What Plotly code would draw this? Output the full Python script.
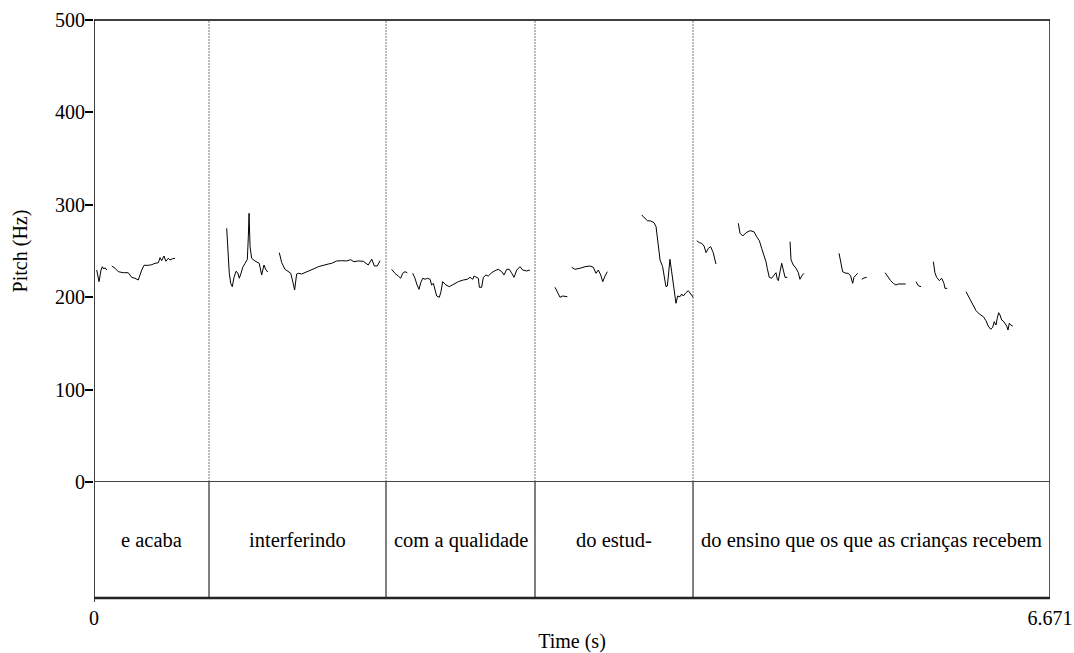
import plotly.graph_objects as go

# ---- data ----
T_MAX = 6.671
boundaries = [0.8025, 2.0376, 3.0773, 4.180]
labels = ["e acaba", "interferindo", "com a qualidade", "do estud-",
          "do ensino que os que as crianças recebem"]

seg_t = [
    [0.019, 0.035, 0.049, 0.058, 0.068, 0.077, 0.089],
    [0.124, 0.147, 0.170, 0.204, 0.239, 0.263, 0.286, 0.309, 0.333, 0.349, 0.379, 0.403, 0.426,
     0.449, 0.461, 0.472, 0.488, 0.502, 0.518, 0.530, 0.549, 0.565],
    [0.926, 0.944, 0.954, 0.965, 0.977, 0.991, 1.003, 1.014, 1.026, 1.038, 1.054, 1.070, 1.077,
     1.082, 1.089, 1.100, 1.123, 1.153, 1.170, 1.186, 1.198, 1.212],
    [1.293, 1.310, 1.333, 1.356, 1.373, 1.387, 1.400, 1.414, 1.428, 1.449, 1.472, 1.507, 1.542,
     1.565, 1.600, 1.635, 1.659, 1.694, 1.728, 1.763, 1.791, 1.814, 1.844, 1.879, 1.914, 1.938,
     1.956, 1.977, 1.996],
    [2.077, 2.100, 2.123, 2.140, 2.154, 2.170, 2.186],
    [2.224, 2.240, 2.252, 2.268, 2.280, 2.294, 2.310, 2.326, 2.345, 2.356, 2.368, 2.380, 2.391,
     2.410, 2.421, 2.433, 2.456, 2.479, 2.507, 2.542, 2.577, 2.605, 2.624, 2.643, 2.652, 2.666,
     2.682, 2.689, 2.705, 2.717, 2.735, 2.751, 2.775, 2.798, 2.821, 2.845, 2.861, 2.880, 2.898,
     2.915, 2.931, 2.950, 2.973, 2.991, 3.019, 3.042],
    [3.217, 3.233, 3.252, 3.271, 3.303],
    [3.333, 3.356, 3.391, 3.426, 3.461, 3.484, 3.503, 3.519, 3.536, 3.550, 3.566, 3.582],
    [3.822, 3.845, 3.861, 3.885, 3.908, 3.922, 3.933, 3.950, 3.968, 3.977, 3.991, 4.001, 4.019,
     4.031, 4.042, 4.054, 4.061, 4.073, 4.089, 4.101, 4.112, 4.131, 4.147, 4.164, 4.182],
    [4.206, 4.224, 4.241, 4.257, 4.271, 4.287, 4.303, 4.321, 4.340],
    [4.496, 4.508, 4.527, 4.550, 4.578, 4.605, 4.624, 4.643, 4.659, 4.675, 4.689, 4.698, 4.712,
     4.729, 4.745, 4.759, 4.768, 4.775, 4.787, 4.799, 4.810, 4.822, 4.838],
    [4.857, 4.864, 4.880, 4.899, 4.915, 4.926, 4.938, 4.954],
    [5.199, 5.210, 5.224, 5.247, 5.263, 5.280, 5.294, 5.303, 5.317, 5.329],
    [5.357, 5.373, 5.392],
    [5.520, 5.531, 5.543, 5.559, 5.578, 5.596, 5.612, 5.629, 5.647, 5.664],
    [5.736, 5.752, 5.771],
    [5.857, 5.868, 5.880, 5.899, 5.915, 5.931, 5.938, 5.954],
    [6.085, 6.101, 6.118, 6.136, 6.155, 6.178, 6.206, 6.224, 6.240, 6.257, 6.271, 6.282, 6.294,
     6.303, 6.313, 6.322, 6.334, 6.345, 6.357, 6.369, 6.378, 6.387, 6.397, 6.411],
]
seg_f = [
    [229.4, 216.8, 229.4, 233.0, 230.5, 231.9, 229.4],
    [233.8, 231.3, 227.6, 226.5, 226.5, 221.5, 220.5, 218.6, 229.4, 234.5, 234.5, 235.2, 236.7,
     237.3, 242.8, 239.5, 244.6, 238.9, 242.1, 240.3, 241.7, 242.1],
    [274.6, 225.9, 215.0, 211.4, 221.5, 228.0, 226.5, 220.5, 225.9, 232.4, 236.7, 241.0, 265.5,
     290.8, 254.7, 242.1, 239.2, 236.7, 224.0, 234.8, 230.2, 227.3],
    [248.2, 237.3, 230.2, 227.6, 225.9, 216.8, 207.8, 225.1, 225.9, 225.1, 226.5, 228.4, 231.3,
     233.0, 234.8, 235.9, 236.7, 239.2, 239.5, 239.2, 240.6, 238.4, 239.2, 238.9, 234.8, 241.3,
     233.8, 233.8, 239.5],
    [230.2, 225.9, 222.9, 220.5, 225.9, 227.6, 226.5],
    [225.9, 220.5, 214.3, 208.5, 215.7, 220.5, 219.4, 220.5, 219.4, 213.2, 215.0, 207.8, 201.3,
     199.9, 206.0, 216.8, 213.2, 211.4, 214.0, 216.8, 218.6, 219.4, 221.5, 219.4, 222.9, 221.5,
     220.5, 210.7, 210.7, 221.5, 224.0, 222.9, 226.5, 228.7, 230.2, 227.6, 224.0, 230.2, 230.2,
     225.9, 221.5, 229.4, 233.0, 229.4, 228.4, 229.4],
    [210.7, 206.0, 199.9, 201.3, 200.5],
    [232.4, 230.2, 231.3, 233.0, 233.8, 232.4, 225.9, 229.4, 224.0, 216.8, 222.9, 227.6],
    [289.0, 285.4, 282.8, 282.5, 280.6, 276.3, 261.9, 240.3, 233.0, 222.2, 211.4, 212.1, 241.0,
     227.6, 215.0, 204.2, 193.4, 201.3, 200.5, 203.5, 201.3, 204.9, 207.0, 203.5, 199.9],
    [261.1, 259.0, 258.3, 255.4, 248.2, 252.9, 254.7, 248.2, 235.9],
    [280.0, 269.2, 266.2, 269.8, 272.0, 270.9, 265.5, 261.1, 252.9, 245.7, 238.4, 231.3, 221.5,
     220.5, 224.0, 226.5, 219.4, 217.9, 227.6, 236.7, 229.4, 221.5, 221.5],
    [260.1, 240.3, 234.8, 231.3, 226.5, 219.4, 222.9, 225.9],
    [247.5, 238.4, 227.6, 225.9, 225.9, 222.9, 215.0, 221.5, 224.0, 225.9],
    [219.4, 220.8, 221.5],
    [226.5, 224.0, 221.5, 217.9, 215.0, 213.2, 214.3, 214.3, 215.0, 214.3],
    [216.8, 212.4, 211.4],
    [238.4, 226.5, 221.5, 217.9, 220.5, 215.0, 209.6, 209.6],
    [206.0, 201.3, 196.2, 190.5, 185.4, 181.8, 178.9, 174.6, 168.8, 165.3, 167.4, 173.5, 169.9,
     177.2, 183.2, 180.7, 175.3, 174.2, 171.8, 168.8, 164.5, 171.8, 169.9, 168.8],
]

y_ticks = [0, 100, 200, 300, 400, 500]
x_ticks = [0, T_MAX]
x_ticktext = ["0", "6.671"]

# ---- build ----
xs, ys = [], []
for t, f in zip(seg_t, seg_f):
    xs += t + [None]
    ys += f + [None]

FONT = "Times New Roman"
fig = go.Figure()
fig.add_trace(go.Scatter(x=xs, y=ys, mode="lines", line=dict(color="black", width=1),
                         connectgaps=False, showlegend=False, hoverinfo="skip"))

SPLIT = 116 / 578
shapes = []
for b in boundaries:
    shapes.append(dict(type="line", xref="x", yref="y", x0=b, x1=b, y0=0, y1=500,
                       line=dict(color="#777777", width=1, dash="2px,1px"), layer="below"))
    shapes.append(dict(type="line", xref="x", yref="y2", x0=b, x1=b, y0=0, y1=1,
                       line=dict(color="black", width=1)))
# frame
shapes += [
    dict(type="line", xref="x", yref="paper", x0=0, x1=0, y0=-0.007, y1=1, line=dict(color="black", width=1.5)),
    dict(type="line", xref="x", yref="paper", x0=T_MAX, x1=T_MAX, y0=0, y1=1, line=dict(color="#555555", width=2)),
    dict(type="line", xref="x", yref="paper", x0=0, x1=T_MAX, y0=1, y1=1, line=dict(color="black", width=1.5)),
    dict(type="line", xref="x", yref="y", x0=0, x1=T_MAX, y0=0, y1=0, line=dict(color="#444444", width=2)),
    dict(type="line", xref="x", yref="paper", x0=0, x1=T_MAX, y0=0, y1=0, line=dict(color="#222222", width=2.5)),
]

edges = [0] + boundaries + [T_MAX]
annotations = []
for i, lab in enumerate(labels):
    annotations.append(dict(x=(edges[i] + edges[i + 1]) / 2, y=0.5, xref="x", yref="y2",
                            text=lab, showarrow=False,
                            font=dict(family=FONT, size=20.5, color="black")))

fig.update_layout(
    width=1074, height=653,
    margin=dict(l=94, r=24, t=20, b=55),
    plot_bgcolor="white", paper_bgcolor="white",
    shapes=shapes, annotations=annotations,
    font=dict(family=FONT, size=20, color="black"),
    xaxis=dict(range=[0, T_MAX], anchor="y2", showgrid=False, zeroline=False, automargin=False,
               tickvals=x_ticks, ticktext=x_ticktext, ticks="outside", ticklen=2,
               tickcolor="rgba(0,0,0,0)", tickfont=dict(family=FONT, size=20),
               title=dict(text="Time (s)", font=dict(family=FONT, size=20), standoff=10)),
    yaxis=dict(domain=[SPLIT, 1], range=[0, 500], showgrid=False, zeroline=False, automargin=False,
               tickvals=y_ticks, ticks="outside", ticklen=8, tickcolor="black", tickwidth=1.5,
               ticklabelstandoff=-4,
               tickfont=dict(family=FONT, size=20),
               title=dict(text="Pitch (Hz)", font=dict(family=FONT, size=20), standoff=22)),
    yaxis2=dict(domain=[0, SPLIT], range=[0, 1], showgrid=False, zeroline=False, automargin=False,
                showticklabels=False, ticks=""),
)

fig.write_html("out.html")
